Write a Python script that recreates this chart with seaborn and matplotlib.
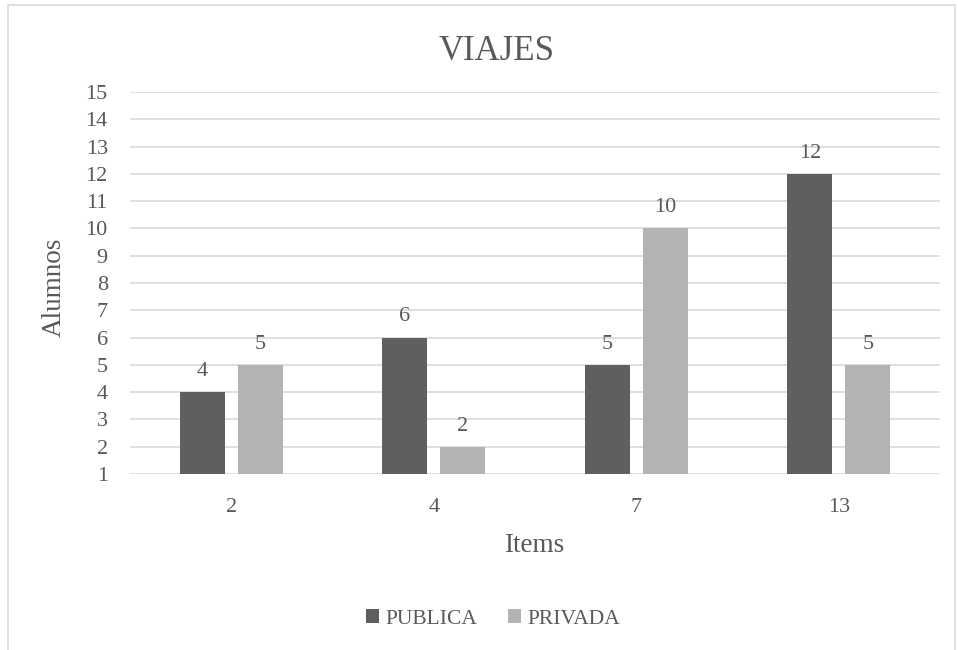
import matplotlib
matplotlib.use("Agg")
import matplotlib.pyplot as plt
import seaborn as sns
import pandas as pd
from matplotlib.patches import Rectangle

# ── Data ─────────────────────────────────────────────────────
items    = ["2", "4", "7", "13"]
publica  = [4, 6, 5, 12]
privada  = [5, 2, 10, 5]
series   = ["PUBLICA", "PRIVADA"]
colors   = ["#5f5f5f", "#b3b3b3"]

df = pd.DataFrame({
    "Items":   items * 2,
    "Alumnos": publica + privada,
    "Serie":   [series[0]] * len(items) + [series[1]] * len(items),
})

# ── Style ────────────────────────────────────────────────────
sns.set_theme(style="white")
plt.rcParams["font.family"] = ["Liberation Serif", "DejaVu Serif"]
TXT = "#595959"
GRID = "#d9d9d9"

fig = plt.figure(figsize=(9.58, 6.5), dpi=100)
ax = fig.add_axes([130 / 958, 1 - 474 / 650, 810 / 958, 382 / 650])

sns.barplot(data=df, x="Items", y="Alumnos", hue="Serie", order=items,
            hue_order=series, palette=colors, width=0.573, gap=0.224,
            edgecolor="none", saturation=1, ax=ax, legend=True)

ax.set_ylim(1, 15)
ax.set_xlim(-0.5, len(items) - 0.5)
ax.set_yticks(range(1, 16))
ax.yaxis.grid(True, color=GRID, linewidth=1.2)
ax.set_axisbelow(True)
for s in ax.spines.values():
    s.set_visible(False)
ax.tick_params(axis="both", length=0, labelsize=16, colors=TXT)
ax.tick_params(axis="x", pad=17)
ax.tick_params(axis="y", pad=16)

ax.set_xlabel("")
ax.set_ylabel("")
fig.text(534 / 958, 1 - 545 / 650, "Items", fontsize=19.5, color=TXT,
         ha="center", va="center")
fig.text(54 / 958, 1 - 287 / 650, "Alumnos", fontsize=19.5, color=TXT,
         ha="center", va="center", rotation=90)
fig.text(497 / 958, 1 - 52 / 650, "VIAJES", fontsize=25, color=TXT,
         ha="center", va="center")

for cont in ax.containers:
    ax.bar_label(cont, fmt="%d", padding=8, fontsize=16, color=TXT)

handles, labels = ax.get_legend_handles_labels()
ax.legend_.remove()
fig.legend(handles, labels, loc="center", bbox_to_anchor=(493 / 958, 1 - 619 / 650),
           ncol=2, frameon=False, fontsize=15.5, labelcolor=TXT,
           handlelength=0.6, handleheight=0.6, handletextpad=0.3, columnspacing=1.4)

# outer chart border
fig.patches.append(Rectangle((8 / 958, -0.05), 947 / 958, 1.05 - 5 / 650,
                             transform=fig.transFigure, fill=False,
                             edgecolor="#d9d9d9", linewidth=1.2))

fig.savefig("out.png", dpi=100)
